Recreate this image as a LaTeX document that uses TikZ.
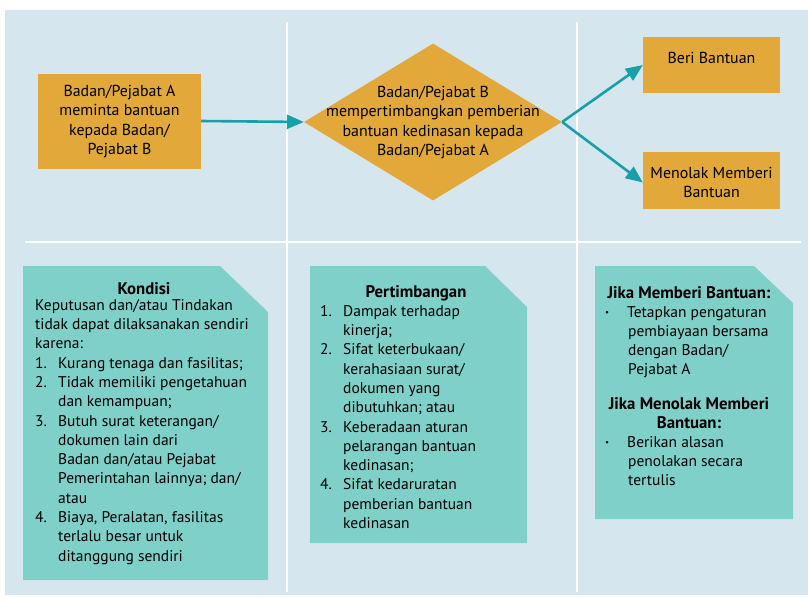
\documentclass[tikz,border=0pt]{standalone}
\usepackage{fontspec}
\setmainfont{PT Sans}
\usetikzlibrary{shapes.geometric,arrows.meta}
\definecolor{bgblue}{RGB}{214,230,238}
\definecolor{orng}{RGB}{226,168,58}
\definecolor{tealbox}{RGB}{128,208,202}
\definecolor{arrowteal}{RGB}{24,160,168}
\tikzset{
  topbox/.style={fill=orng, draw=none, inner sep=0pt},
  toptext/.style={font=\fontsize{15.9}{19.4}\selectfont, align=center, inner sep=0pt, text=black},
  flowarrow/.style={draw=arrowteal, line width=2.6pt, -{Triangle[length=17pt,width=14pt]}},
  divider/.style={draw=white, line width=2.6pt},
  bodytext/.style={font=\fontsize{15.5}{19.3}\selectfont, align=left, inner sep=0pt, anchor=north west, text=black},
  titletext/.style={font=\bfseries\fontsize{16.8}{19.6}\selectfont, inner sep=0pt, anchor=base, text=black}
}
\newcommand{\itm}[1]{\makebox[23pt][l]{#1}}
\newcommand{\cnt}{\hspace*{23pt}}
\newcommand{\bul}{\makebox[22pt][l]{\fontsize{9}{9}\selectfont\raisebox{1.8pt}{•}}}
\begin{document}
\begin{tikzpicture}[x=1pt,y=-1pt]
\useasboundingbox (0,0) rectangle (808,597);
\fill[white] (0,0) rectangle (808,597);
\fill[bgblue] (5,10) rectangle (808,595);
% dividers
\draw[divider] (287,22) -- (287,592);
\draw[divider] (577,22) -- (577,592);
\draw[divider] (25,242) -- (801,242);
% top flow
\node[topbox, minimum width=163pt, minimum height=95pt] (A) at (119.5,121) {};
\node[toptext] (Atext) at ([yshift=-0.5pt]A.center) {Badan/Pejabat A\\meminta bantuan\\kepada Badan/\\Pejabat B};
\node[diamond, fill=orng, inner sep=0pt, minimum width=258pt, minimum height=157pt] (D) at (433,122) {};
\node[toptext] (Dtext) at ([yshift=-0.5pt]D.center) {Badan/Pejabat B\\mempertimbangkan pemberian\\bantuan kedinasan kepada\\Badan/Pejabat A};
\node[topbox, minimum width=137pt, minimum height=56pt] (B) at (711.5,65) {};
\node[toptext, anchor=north] (Btext) at ([yshift=-15pt]B.north) {Beri Bantuan};
\node[topbox, minimum width=137pt, minimum height=57pt] (M) at (711.5,180.5) {};
\node[toptext, anchor=north] (Mtext) at ([yshift=-15pt]M.north) {Menolak Memberi\\Bantuan};
\draw[flowarrow] (A.east) -- (D.west);
\draw[flowarrow] (D.east) -- (B.west);
\draw[flowarrow] (D.east) -- ([yshift=-2pt]M.west);
% lower boxes
\fill[tealbox] (23,266) -- (220,266) -- (268,312) -- (268,580) -- (23,580) -- cycle;
\fill[tealbox] (310,266) -- (485,266) -- (527,307) -- (527,543) -- (310,543) -- cycle;
\fill[tealbox] (595,266) -- (754,266) -- (793,303) -- (793,519) -- (595,519) -- cycle;
\node[titletext] (K) at (144,294) {Kondisi};
\node[bodytext] (Kbody) at (35,299) {Keputusan dan/atau Tindakan\\
tidak dapat dilaksanakan sendiri\\
karena:\\
\itm{1.}Kurang tenaga dan fasilitas;\\
\itm{2.}Tidak memiliki pengetahuan\\
\cnt dan kemampuan;\\
\itm{3.}Butuh surat keterangan/\\
\cnt dokumen lain dari\\
\cnt Badan dan/atau Pejabat\\
\cnt Pemerintahan lainnya; dan/\\
\cnt atau\\
\itm{4.}Biaya, Peralatan, fasilitas\\
\cnt terlalu besar untuk\\
\cnt ditanggung sendiri};
\node[titletext] (P) at (416,297) {Pertimbangan};
\node[bodytext] (Pbody) at (320,305) {\itm{1.}Dampak terhadap\\
\cnt kinerja;\\
\itm{2.}Sifat keterbukaan/\\
\cnt kerahasiaan surat/\\
\cnt dokumen yang\\
\cnt dibutuhkan; atau\\
\itm{3.}Keberadaan aturan\\
\cnt pelarangan bantuan\\
\cnt kedinasan;\\
\itm{4.}Sifat kedaruratan\\
\cnt pemberian bantuan\\
\cnt kedinasan};
\node[titletext] (J1) at (689,298) {Jika Memberi Bantuan:};
\node[bodytext] (J1body) at (605,306) {\bul Tetapkan pengaturan\\
\cnt pembiayaan bersama\\
\cnt dengan Badan/\\
\cnt Pejabat A};
\node[titletext, align=center, anchor=north] (J2) at (689,397) {Jika Menolak Memberi\\Bantuan:};
\node[bodytext] (J2body) at (605,436) {\bul Berikan alasan\\
\cnt penolakan secara\\
\cnt tertulis};
\end{tikzpicture}
\end{document}
